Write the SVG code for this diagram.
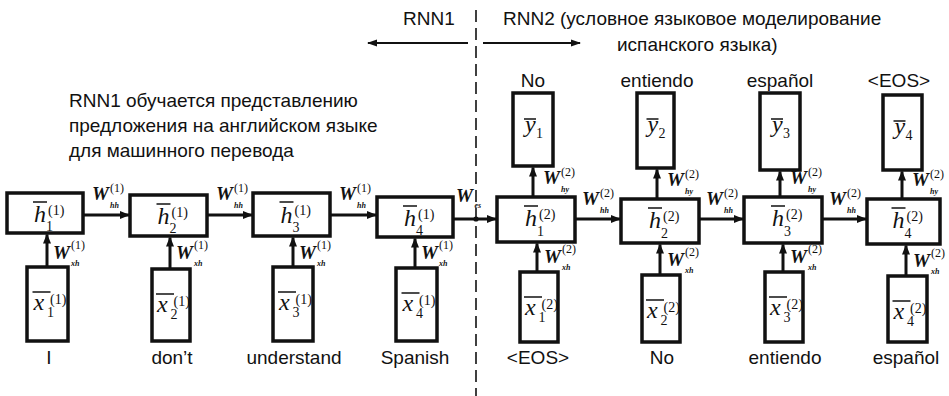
<svg xmlns="http://www.w3.org/2000/svg" width="949" height="396" viewBox="0 0 949 396">
<defs>
<marker id="ah" markerUnits="userSpaceOnUse" markerWidth="10" markerHeight="8" refX="9" refY="4" orient="auto"><path d="M0,0 L10,4 L0,8 Z" fill="#111"/></marker>
<marker id="ah2" markerUnits="userSpaceOnUse" markerWidth="10" markerHeight="8" refX="9" refY="4" orient="auto"><path d="M0,0.5 L10,4 L0,7.5 Z" fill="#111"/></marker>
<style>
.box{fill:#fff;stroke:#111;stroke-width:3.5}
.c{stroke:#111;stroke-width:3;fill:none;marker-end:url(#ah)}
.ct{stroke:#111;stroke-width:2;fill:none;marker-end:url(#ah2)}
.dash{stroke:#111;stroke-width:1.6;stroke-dasharray:12 6;fill:none}
.t{font-family:"Liberation Sans",Arial,sans-serif;font-size:19px;fill:#111}
.tm{font-family:"Liberation Sans",Arial,sans-serif;font-size:19px;fill:#111;text-anchor:middle}
.mi{font-family:"Liberation Serif","Times New Roman",serif;font-style:italic;font-size:24px;fill:#111}
.ix{font-family:"Liberation Serif","Times New Roman",serif;font-size:14px;fill:#111}
.w{font-family:"Liberation Serif","Times New Roman",serif;font-style:italic;font-weight:bold;font-size:19px;fill:#111}
.ws{font-family:"Liberation Serif","Times New Roman",serif;font-style:italic;font-weight:bold;font-size:8px;fill:#111}
.wp{font-family:"Liberation Serif","Times New Roman",serif;font-size:12px;fill:#111}
.ov{stroke:#111;stroke-width:1.5}
</style>
</defs>
<rect width="949" height="396" fill="#fff"/>

<!-- header / divider -->
<g id="divider">
<path class="dash" d="M476,10 V396"/>
<text class="t" x="403" y="25">RNN1</text>
<text class="t" x="503" y="25">RNN2 (условное языковое моделирование</text>
<text class="t" x="617" y="51">испанского языка)</text>
<text class="t" x="69" y="107">RNN1 обучается представлению</text>
<text class="t" x="69" y="132">предложения на английском языке</text>
<text class="t" x="69" y="157">для машинного перевода</text>
</g>

<!-- connectors -->
<g id="connectors">
<path class="ct" d="M468,43 H368"/>
<path class="ct" d="M483,43 H580"/>
<path class="c" d="M84,215 H129"/>
<path class="c" d="M208,215 H252"/>
<path class="c" d="M331,215 H376"/>
<path class="c" d="M47,267 V234.5"/>
<path class="c" d="M170,269 V237.5"/>
<path class="c" d="M293,267 V237.5"/>
<path class="c" d="M415,268 V238.5"/>
<path class="c" d="M454,219 H496"/>
<circle cx="476" cy="219" r="2.6" fill="#111"/>
<path class="c" d="M576,219 H620"/>
<path class="c" d="M700,219 H743"/>
<path class="c" d="M823,219 H866"/>
<path class="c" d="M533,197 V167.5"/>
<path class="c" d="M657,199 V169.5"/>
<path class="c" d="M780,197 V171.5"/>
<path class="c" d="M902,199 V171.5"/>
<path class="c" d="M537,272 V243.5"/>
<path class="c" d="M660,275 V244.5"/>
<path class="c" d="M783,272 V244.5"/>
<path class="c" d="M906,276 V245.5"/>
<!-- weight labels -->
<text class="w" x="92" y="200">W</text><text class="wp" x="110" y="192">(1)</text><text class="ws" x="110" y="208">hh</text>
<text class="w" x="216" y="200">W</text><text class="wp" x="234" y="192">(1)</text><text class="ws" x="234" y="208">hh</text>
<text class="w" x="339" y="200">W</text><text class="wp" x="357" y="192">(1)</text><text class="ws" x="357" y="208">hh</text>
<text class="w" x="456" y="202">W</text><text class="ws" x="474.5" y="208">es</text>
<text class="w" x="53" y="259">W</text><text class="wp" x="71" y="249">(1)</text><text class="ws" x="71" y="266">xh</text>
<text class="w" x="176" y="259">W</text><text class="wp" x="194" y="249">(1)</text><text class="ws" x="194" y="266">xh</text>
<text class="w" x="299" y="259">W</text><text class="wp" x="317" y="249">(1)</text><text class="ws" x="317" y="266">xh</text>
<text class="w" x="421" y="259">W</text><text class="wp" x="439" y="249">(1)</text><text class="ws" x="439" y="266">xh</text>
<text class="w" x="582" y="205">W</text><text class="wp" x="600" y="197">(2)</text><text class="ws" x="600" y="213">hh</text>
<text class="w" x="706" y="205">W</text><text class="wp" x="724" y="197">(2)</text><text class="ws" x="724" y="213">hh</text>
<text class="w" x="829" y="205">W</text><text class="wp" x="847" y="197">(2)</text><text class="ws" x="847" y="213">hh</text>
<text class="w" x="543" y="184">W</text><text class="wp" x="561" y="176">(2)</text><text class="ws" x="561" y="192">hy</text>
<text class="w" x="667" y="186">W</text><text class="wp" x="685" y="178">(2)</text><text class="ws" x="685" y="194">hy</text>
<text class="w" x="790" y="184">W</text><text class="wp" x="808" y="176">(2)</text><text class="ws" x="808" y="192">hy</text>
<text class="w" x="912" y="186">W</text><text class="wp" x="930" y="178">(2)</text><text class="ws" x="930" y="194">hy</text>
<text class="w" x="544" y="263">W</text><text class="wp" x="562" y="253">(2)</text><text class="ws" x="562" y="270">xh</text>
<text class="w" x="667" y="266">W</text><text class="wp" x="685" y="256">(2)</text><text class="ws" x="685" y="273">xh</text>
<text class="w" x="790" y="263">W</text><text class="wp" x="808" y="253">(2)</text><text class="ws" x="808" y="270">xh</text>
<text class="w" x="913" y="267">W</text><text class="wp" x="931" y="257">(2)</text><text class="ws" x="931" y="274">xh</text>
</g>

<!-- RNN1 hidden states -->
<g id="h1_1"><rect class="box" x="7" y="193" width="76" height="40"/><text class="mi" x="34" y="222">h</text><line class="ov" x1="33" x2="47" y1="202" y2="202"/><text class="ix" x="46" y="231">1</text><text class="ix" x="48" y="215">(1)</text></g>
<g id="h2_1"><rect class="box" x="130" y="195" width="77" height="41"/><text class="mi" x="157.5" y="224">h</text><line class="ov" x1="156.5" x2="170.5" y1="204" y2="204"/><text class="ix" x="169.5" y="233">2</text><text class="ix" x="171.5" y="217">(1)</text></g>
<g id="h3_1"><rect class="box" x="253" y="193" width="77" height="43"/><text class="mi" x="280.5" y="223">h</text><line class="ov" x1="279.5" x2="293.5" y1="202" y2="202"/><text class="ix" x="292.5" y="232">3</text><text class="ix" x="294.5" y="215">(1)</text></g>
<g id="h4_1"><rect class="box" x="377" y="197" width="76" height="40"/><text class="mi" x="404" y="226">h</text><line class="ov" x1="403" x2="417" y1="206" y2="206"/><text class="ix" x="416" y="235">4</text><text class="ix" x="418" y="219">(1)</text></g>

<!-- RNN1 inputs -->
<g id="x1_1"><rect class="box" x="27" y="267" width="41" height="74"/><text class="mi" x="33.5" y="310">x</text><line class="ov" x1="32.5" x2="50.5" y1="292" y2="292"/><text class="ix" x="47" y="317">1</text><text class="ix" x="50" y="304">(1)</text><text class="tm" x="49" y="364">I</text></g>
<g id="x2_1"><rect class="box" x="152" y="269" width="38" height="72"/><text class="mi" x="157" y="312">x</text><line class="ov" x1="156" x2="174" y1="294" y2="294"/><text class="ix" x="170.5" y="319">2</text><text class="ix" x="173.5" y="306">(1)</text><text class="tm" x="172" y="364">don’t</text></g>
<g id="x3_1"><rect class="box" x="273" y="267" width="40" height="74"/><text class="mi" x="279" y="310">x</text><line class="ov" x1="278" x2="296" y1="292" y2="292"/><text class="ix" x="292.5" y="317">3</text><text class="ix" x="295.5" y="304">(1)</text><text class="tm" x="294" y="364">understand</text></g>
<g id="x4_1"><rect class="box" x="396" y="268" width="41" height="73"/><text class="mi" x="402.5" y="311">x</text><line class="ov" x1="401.5" x2="419.5" y1="293" y2="293"/><text class="ix" x="416" y="318">4</text><text class="ix" x="419" y="305">(1)</text><text class="tm" x="415" y="364">Spanish</text></g>

<!-- RNN2 hidden states -->
<g id="h1_2"><rect class="box" x="497" y="197" width="78" height="45"/><text class="mi" x="525" y="226">h</text><line class="ov" x1="524" x2="538" y1="206" y2="206"/><text class="ix" x="537" y="236">1</text><text class="ix" x="539" y="219">(2)</text></g>
<g id="h2_2"><rect class="box" x="621" y="199" width="78" height="44"/><text class="mi" x="649" y="228">h</text><line class="ov" x1="648" x2="662" y1="208" y2="208"/><text class="ix" x="661" y="238">2</text><text class="ix" x="663" y="221">(2)</text></g>
<g id="h3_2"><rect class="box" x="744" y="197" width="78" height="46"/><text class="mi" x="772" y="226">h</text><line class="ov" x1="771" x2="785" y1="206" y2="206"/><text class="ix" x="784" y="236">3</text><text class="ix" x="786" y="219">(2)</text></g>
<g id="h4_2"><rect class="box" x="867" y="199" width="73" height="45"/><text class="mi" x="892.5" y="228">h</text><line class="ov" x1="891.5" x2="905.5" y1="208" y2="208"/><text class="ix" x="904.5" y="238">4</text><text class="ix" x="906.5" y="221">(2)</text></g>

<!-- RNN2 outputs -->
<g id="y1"><rect class="box" x="513" y="93" width="40" height="73"/><text class="mi" x="525" y="132">y</text><line class="ov" x1="524" x2="536" y1="119" y2="119"/><text class="ix" x="536" y="138">1</text><text class="tm" x="533" y="87">No</text></g>
<g id="y2"><rect class="box" x="637" y="93" width="37" height="75"/><text class="mi" x="647.5" y="132">y</text><line class="ov" x1="646.5" x2="658.5" y1="119" y2="119"/><text class="ix" x="658.5" y="138">2</text><text class="tm" x="657" y="87">entiendo</text></g>
<g id="y3"><rect class="box" x="760" y="93" width="40" height="77"/><text class="mi" x="772" y="132">y</text><line class="ov" x1="771" x2="783" y1="119" y2="119"/><text class="ix" x="783" y="138">3</text><text class="tm" x="780" y="87">español</text></g>
<g id="y4"><rect class="box" x="883" y="95" width="39" height="75"/><text class="mi" x="894.5" y="134">y</text><line class="ov" x1="893.5" x2="905.5" y1="121" y2="121"/><text class="ix" x="905.5" y="140">4</text><text class="tm" x="899" y="87">&lt;EOS&gt;</text></g>

<!-- RNN2 inputs -->
<g id="x1_2"><rect class="box" x="520" y="272" width="38" height="70"/><text class="mi" x="525" y="315">x</text><line class="ov" x1="524" x2="542" y1="297" y2="297"/><text class="ix" x="538.5" y="322">1</text><text class="ix" x="541.5" y="309">(2)</text><text class="tm" x="538" y="364">&lt;EOS&gt;</text></g>
<g id="x2_2"><rect class="box" x="642" y="275" width="38" height="67"/><text class="mi" x="647" y="318">x</text><line class="ov" x1="646" x2="664" y1="300" y2="300"/><text class="ix" x="660.5" y="325">2</text><text class="ix" x="663.5" y="312">(2)</text><text class="tm" x="662" y="364">No</text></g>
<g id="x3_2"><rect class="box" x="765" y="272" width="38" height="70"/><text class="mi" x="770" y="315">x</text><line class="ov" x1="769" x2="787" y1="297" y2="297"/><text class="ix" x="783.5" y="322">3</text><text class="ix" x="786.5" y="309">(2)</text><text class="tm" x="785" y="364">entiendo</text></g>
<g id="x4_2"><rect class="box" x="888" y="276" width="39" height="66"/><text class="mi" x="893.5" y="319">x</text><line class="ov" x1="892.5" x2="910.5" y1="301" y2="301"/><text class="ix" x="907" y="326">4</text><text class="ix" x="910" y="313">(2)</text><text class="tm" x="906" y="364">español</text></g>
</svg>
